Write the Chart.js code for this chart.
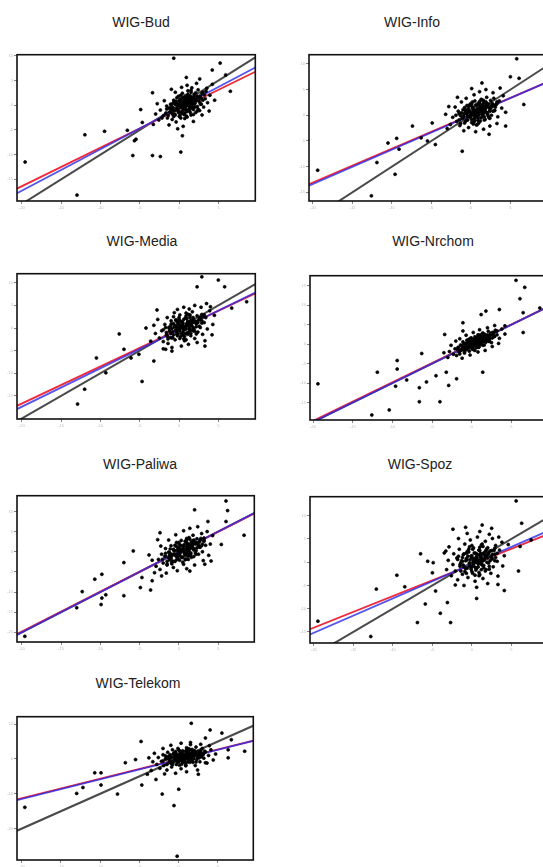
<!DOCTYPE html>
<html>
<head>
<meta charset="utf-8">
<script src="https://cdn.jsdelivr.net/npm/chart.js@4.4.1/dist/chart.umd.min.js"></script>
<style>
body { margin: 0; width: 543px; height: 867px; overflow: hidden; background: #fff; position: relative; font-family: "Liberation Sans", Arial, sans-serif; }
.panel { position: absolute; }
.ttl { position: absolute; width: 200px; text-align: center; font-size: 14px; line-height: 16px; color: #222; }
</style>
</head>
<body>
<script>
// Panel data (returns in %, sector index vs WIG)
const titles = ['WIG-Bud', 'WIG-Info', 'WIG-Media', 'WIG-Nrchom', 'WIG-Paliwa', 'WIG-Spoz', 'WIG-Telekom'];
const xTicks = [-20, -15, -10, -5, 0, 5];
const yTicks = [
    [-15, -10, -5, 0, 5, 10],
    [-15, -10, -5, 0, 5, 10],
    [-15, -10, -5, 0, 5, 10],
    [-15, -10, -5, 0, 5, 10, 15],
    [-20, -15, -10, -5, 0, 5, 10],
    [-15, -10, -5, 0, 5, 10],
    [-20, -10, 0, 10]
];
const xRange = [[-20.63, 9.67], [-20.5, 9.8], [-20.6, 9.7], [-20.4, 9.8], [-20.6, 9.6], [-20.5, 9.8], [-20.6, 9.5]];
const yRange = [[-19.4, 10.2], [-16.7, 11.8], [-20.1, 12.0], [-19.5, 17.6], [-22.4, 13.9], [-17.4, 14.1], [-29.0, 12.1]];

// lines as [intercept, slope]
const grayLine = [[0, 1], [0, 1], [0, 1], [0, 1], [0, 1], [0, 1], [0, 1]];
const redLine = [[-0.8, 0.78], [0.1, 0.66], [-0.3, 0.82], [0.1, 0.99], [0.0, 0.99], [-0.5, 0.68], [-0.1, 0.56]];
const blueLine = [[-0.5, 0.84], [0.0, 0.67], [-0.4, 0.85], [0.0, 1.0], [0.0, 1.0], [-0.4, 0.74], [-0.2, 0.565]];

// scatter points, flat x,y pairs
const budPts = [
    -19.6,-11.5, -13.0,-18.2, -9.5,-5.3, -12.0,-6.0, -6.6,-5.1, -5.9,-10.2, -5.7,-7.2, -4.7,-3.5, -3.4,-10.2, -2.4,-10.4,
    0.2,-9.5, -0.7,9.5, 4.2,7.1, 5.2,8.5, 6.5,2.8, 5.9,6.1, -3.4,2.5, -4.9,-0.9, 0.4,-6.2, -5.5,-6.9,
    -2.0,-2.1, -1.6,-0.8, -1.5,-2.6, -1.2,-1.4, -1.1,0.2, -0.9,-2.9, -0.8,-0.5, -0.7,1.0, -0.6,-1.8, -0.4,-3.4,
    -0.3,0.4, -0.2,-1.1, -0.1,1.8, 0.0,-2.3, 0.1,-0.3, 0.2,0.9, 0.3,-1.6, 0.4,2.4, 0.5,-0.8, 0.6,0.3,
    0.7,-2.7, 0.8,1.4, 0.9,-0.1, 1.0,-1.3, 1.1,2.9, 1.2,0.6, 1.3,-0.6, 1.4,1.9, 1.5,-2.0, 1.6,0.1,
    1.7,1.1, 1.8,-0.9, 1.9,2.2, 2.0,0.4, 2.1,-1.5, 2.2,1.5, 2.3,-0.3, 2.4,3.1, 2.5,0.9, 2.6,-1.1,
    2.7,1.9, 2.8,0.2, 3.0,2.6, 3.1,-0.4, 3.3,1.3, 3.5,3.4, -1.9,0.9, -2.4,-1.0, -2.6,-3.0, -0.5,2.6,
    0.3,3.6, 1.0,4.0, 1.6,3.5, 2.2,4.4, 2.9,-2.0, 3.6,0.5, 3.9,2.0, 4.2,4.2, -3.0,-1.8, -2.8,0.3,
    -1.3,-4.0, 0.5,-4.3, 1.8,-3.3, -0.2,-4.8, 3.8,-1.2, 4.5,1.0, -3.3,-3.9, 0.9,5.6, -1.0,3.2, 2.6,5.3
];
const budCore = [
    0.2,-0.5, 0.6,-0.9, 1.1,0.0, -0.3,-0.7, 0.9,0.8, 1.5,0.7, 0.0,0.1, -0.6,-1.1, 0.4,0.5, 1.3,1.2,
    2.0,1.0, 0.7,-1.6, -0.9,-1.7, 1.7,-0.4, 0.3,1.3, -0.1,-1.5, 1.0,0.3, 1.9,0.2, 2.3,1.8, -1.3,-0.6,
    0.5,-0.3, 1.2,-0.9, 0.8,1.9, -0.4,0.8, 1.6,1.5, 2.6,0.6, -0.7,-2.3, 0.1,-2.0, 1.4,-1.5, 2.1,2.5,
    -1.0,-0.2, 0.6,1.0, 1.8,-1.9, 0.0,0.9, 2.8,1.4, -1.7,-1.6, 0.9,-2.2, 1.5,2.6, -0.2,-0.1, 0.4,-1.2,
    1.1,1.6, 2.4,-0.8, -0.8,0.4, 0.2,2.0, 1.3,-0.2, 3.2,2.1, -2.2,-2.6, 0.7,0.6, 1.9,1.3, -0.5,-2.0
];
const budDense = [
    -0.5,0.1, 0.3,-0.2, 1.0,0.9, 1.7,0.6, 0.5,1.6, -0.2,-0.9, 1.3,-1.1, 2.2,0.9, 0.8,-0.5, -0.9,-1.0,
    0.1,0.6, 1.9,1.9, 1.4,0.2, 2.5,1.6, 0.6,-1.9, -1.4,-2.1, 1.1,2.2, 0.0,-1.3, 2.9,2.4, -0.6,0.7,
    1.6,-0.6, 0.4,0.1, 2.0,-0.4, 1.2,1.4, -1.1,-0.7, 0.9,-1.0, 2.7,0.2, 0.2,-2.6, 1.5,3.0, -0.3,1.5,
    3.4,2.8, 0.7,0.3, 1.8,1.2, -1.6,-0.2, 2.3,-1.2, 1.0,-2.4, 0.1,1.2, 3.0,1.0, -0.8,-1.9, 1.4,0.8
];
const infoPts = [
    -19.4,-10.7, -12.6,-15.7, -9.6,-11.5, -11.9,-9.2, -10.5,-5.4, -9.4,-4.5, -9.1,-6.6, -7.4,-2.1, -6.3,-4.4, -5.5,-5.0,
    -4.5,-5.7, -4.9,-1.5, -1.1,-7.0, 5.8,11.0, 1.4,6.3, 5.0,7.5, 6.7,2.1, 6.1,7.2, 4.4,-2.1, 2.3,-3.7,
    -1.8,-1.2, -1.5,0.3, -1.4,-2.0, -1.1,-0.6, -1.0,1.1, -0.8,-1.5, -0.7,0.4, -0.5,1.9, -0.4,-0.9, -0.3,-2.4,
    -0.2,0.9, -0.1,-0.2, 0.0,2.3, 0.1,-1.4, 0.2,0.5, 0.3,1.5, 0.4,-0.6, 0.5,2.8, 0.6,0.1, 0.7,-1.9,
    0.8,1.2, 0.9,-0.3, 1.0,2.0, 1.1,0.6, 1.2,-1.1, 1.3,3.1, 1.4,1.4, 1.5,-0.1, 1.6,2.4, 1.7,0.8,
    1.8,-0.8, 1.9,1.8, 2.0,3.5, 2.1,0.3, 2.2,2.2, 2.3,-0.5, 2.4,1.1, 2.5,2.9, 2.6,0.0, 2.7,1.7,
    2.9,3.3, 3.0,0.9, 3.2,2.1, 3.4,-0.3, 3.6,2.8, 3.9,1.4, 4.1,3.8, -2.3,-0.4, -2.6,-1.8, -2.0,1.6,
    -1.2,2.6, -0.6,3.3, 0.4,4.0, 1.1,4.6, 1.9,5.0, 2.8,4.4, 3.3,-1.6, 0.6,-3.2, -0.9,-3.0, -3.0,-2.6,
    -3.2,0.2, 1.6,-2.7, 2.4,-2.1, 4.4,0.6, -1.7,3.5, 0.1,5.2, 3.7,5.3, -2.8,1.7
];
const infoCore = [
    0.0,0.4, 0.5,1.0, 1.0,1.3, -0.5,0.2, 0.8,0.5, 1.4,2.0, 0.2,1.6, -0.9,-0.2, 0.6,-0.3, 1.2,0.9,
    1.8,1.4, 0.3,0.0, -0.3,1.2, 0.9,2.3, 1.6,0.4, -1.2,0.5, 0.1,-0.8, 2.1,1.9, 0.7,1.8, -0.6,-1.0,
    1.3,-0.5, 2.4,0.8, -0.1,0.7, 1.1,2.7, 0.4,-1.3, 1.9,2.6, -1.5,-0.9, 0.6,0.9, 2.7,2.3, -0.2,2.0,
    1.5,1.1, 0.9,-1.0, -0.8,1.5, 2.2,-0.2, 0.2,2.6, 1.7,-0.9, -1.9,0.0, 3.1,1.6, 0.5,0.3, 1.0,0.1,
    -0.4,-0.3, 1.4,3.0, 2.5,1.4, 0.0,1.9, -1.3,-1.6, 0.8,-1.8, 1.6,1.9, 3.3,2.6, -0.7,0.9, 2.0,0.6
];
const infoDense = [
    -0.4,0.6, 0.3,0.9, 1.2,1.6, 1.8,1.0, 0.6,2.0, -0.1,-0.4, 1.4,0.2, 2.3,1.5, 0.9,0.7, -1.0,-0.5,
    0.2,1.3, 2.0,2.3, 1.5,0.7, 2.6,1.9, 0.5,-1.0, -1.3,-0.1, 1.1,2.4, 0.0,0.1, 2.9,2.0, -0.6,1.1,
    1.7,-0.3, 0.4,0.5, 2.1,0.2, 1.3,1.2, -0.9,0.3, 0.9,-0.6, 2.8,0.8, 0.3,-1.7, 1.6,2.9, -0.3,1.7,
    3.3,2.3, 0.7,0.4, 1.9,1.7, -1.6,0.8, 2.4,-0.6, 1.0,-1.5, 0.1,2.2, 3.0,1.0, -0.7,-1.2, 1.4,1.0
];
const mediaPts = [
    -12.9,-16.8, -12.0,-13.5, -9.3,-9.9, -10.5,-6.6, -7.6,-1.3, -7.0,-4.7, -4.7,-11.8, -6.1,-6.6, -5.1,-5.8, -4.2,0.0,
    -3.2,-7.3, -1.7,-4.7, -0.9,-5.1, 2.9,11.3, 5.0,10.6, 5.8,9.1, 8.6,5.8, 3.3,-4.0, 4.2,-1.5, 2.3,9.1,
    -2.8,4.0, 6.7,4.4,
    -2.5,-2.2, -2.2,-0.6, -2.0,-3.0, -1.8,0.8, -1.6,-1.5, -1.4,-3.4, -1.3,0.1, -1.1,-2.1, -1.0,1.6, -0.8,-0.8,
    -0.7,2.5, -0.5,-2.6, -0.4,0.5, -0.3,-1.3, -0.1,1.2, 0.0,-0.3, 0.1,2.9, 0.2,-1.9, 0.3,0.7, 0.5,-0.9,
    0.6,1.9, 0.7,-2.8, 0.8,0.2, 0.9,3.3, 1.0,-1.1, 1.1,1.1, 1.3,-0.2, 1.4,2.4, 1.5,-1.7, 1.6,0.6,
    1.7,3.6, 1.8,-0.6, 1.9,1.6, 2.0,-2.3, 2.2,0.9, 2.3,2.7, 2.4,-0.9, 2.6,1.9, 2.7,0.1, 2.9,3.0,
    3.0,-1.4, 3.2,1.2, 3.4,2.3, 3.6,-0.2, 3.9,3.8, -3.0,-1.2, -3.2,0.6, -2.7,1.9, -1.5,2.3, -0.2,4.1,
    0.6,4.6, 1.3,4.2, 2.0,5.0, 2.8,4.6, 3.5,5.4, -2.0,-4.6, -0.9,-4.3, 0.3,-4.0, 1.2,-3.6, 2.3,-3.2,
    3.3,-2.8, 4.3,0.8, 4.5,2.8, -3.6,-2.9, -0.6,3.4, 4.0,4.7
];
const mediaCore = [
    0.0,0.1, 0.4,0.6, 0.9,0.4, -0.4,-0.4, 0.6,-0.4, 1.2,1.3, -0.1,0.9, -0.9,-0.1, 0.3,-1.2, 1.0,0.7,
    1.6,1.0, 0.2,1.5, -0.6,0.6, 0.8,2.2, 1.4,-0.6, -1.2,-0.7, -0.2,-1.7, 2.0,1.5, 0.5,1.1, -0.7,-1.5,
    1.1,-1.4, 2.2,0.3, -0.3,0.2, 0.9,2.7, 0.1,-0.6, 1.8,2.3, -1.6,-1.0, 0.5,0.0, 2.6,2.2, -0.4,1.7,
    1.3,0.5, 0.7,-1.9, -1.0,0.9, 2.0,-0.7, 0.0,2.3, 1.5,-1.2, -2.0,-0.4, 2.9,1.6, 0.3,0.3, 0.9,-0.2,
    -0.8,-2.1, 1.2,3.0, 2.4,1.2, -0.2,1.3, -1.4,-2.4, 0.6,-2.4, 1.5,1.7, 3.1,2.6, -1.1,0.4, 1.8,0.1
];
const mediaDense = [
    -0.6,0.2, 0.2,0.0, 1.0,1.0, 1.6,0.5, 0.4,1.4, -0.3,-0.8, 1.2,-0.9, 2.1,1.2, 0.7,-0.2, -1.0,-1.2,
    0.0,0.8, 1.8,2.0, 1.3,0.1, 2.4,1.6, 0.5,-1.6, -1.5,-1.8, 1.0,2.1, -0.1,-1.2, 2.8,2.3, -0.7,1.0,
    1.5,-0.4, 0.3,0.4, 1.9,-0.2, 1.1,1.5, -1.2,-0.4, 0.8,-1.2, 2.6,0.4, 0.1,-2.3, 1.4,2.9, -0.4,1.8,
    3.2,2.9, 0.6,0.2, 1.7,1.3, -1.7,0.1, 2.2,-1.3, 0.9,-2.6, 0.0,1.9, 2.9,1.1, -0.9,-2.2, 1.3,0.7
];
const nrchomPts = [
    -19.4,-10.2, -12.6,-18.2, -10.4,-16.9, -11.9,-7.2, -9.4,-4.2, -9.4,-6.4, -9.6,-10.8, -8.2,-9.2, -6.6,-11.2, -6.6,-14.8,
    -4.0,-14.8, -5.7,-9.7, -4.5,-8.1, -6.3,-2.4, -3.4,2.5, -2.9,-10.6, -1.9,-8.9, -1.1,5.5, 1.4,-7.2, 1.2,7.6,
    1.8,8.5, 3.5,8.9, 4.2,4.7, 5.6,16.4, 6.7,14.6, 6.1,11.7, 6.5,8.1, 6.5,3.0, 8.6,9.3, -1.1,3.4, -3.2,-7.2,
    -2.3,-2.6, -2.1,-1.2, -1.9,-2.9, -1.7,-0.8, -1.6,-2.0, -1.4,-0.2, -1.3,-1.5, -1.1,0.6, -1.0,-0.9, -0.9,-2.3,
    -0.8,0.1, -0.6,-1.2, -0.5,1.0, -0.4,-0.4, -0.3,-1.8, -0.2,0.5, -0.1,1.6, 0.0,-0.7, 0.1,0.9, 0.2,-1.3,
    0.3,0.2, 0.4,1.9, 0.5,-0.3, 0.6,1.2, 0.7,0.5, 0.8,2.4, 0.9,-0.8, 1.0,1.5, 1.1,0.3, 1.2,2.0,
    1.3,0.9, 1.4,2.9, 1.5,1.4, 1.6,-0.2, 1.7,2.3, 1.8,0.8, 2.0,1.7, 2.1,3.3, 2.2,1.0, 2.4,2.5,
    2.5,0.4, 2.6,3.0, 2.8,1.9, 3.0,3.6, 3.2,2.4, 3.5,1.5, 3.8,3.9, -2.8,-1.9, -3.0,-3.4, -2.6,-0.3,
    -1.5,1.4, -0.7,2.3, 0.2,3.0, 1.0,3.7, 2.0,4.2, 2.9,4.8, -1.2,-3.6, -0.2,-2.8, 0.8,-2.0, 1.7,-1.6,
    2.6,-0.6, 3.4,0.2, -3.5,-2.2, 4.2,2.6, -2.0,0.8
];
const nrchomCore = [
    0.0,0.2, 0.4,0.5, 0.9,1.0, -0.4,-0.3, 0.6,0.2, 1.2,1.5, -0.1,0.7, -0.8,-0.6, 0.3,-0.4, 1.0,0.6,
    1.5,1.9, 0.2,1.1, -0.5,0.4, 0.7,1.6, 1.3,0.6, -1.1,-1.0, -0.3,-1.0, 1.8,1.3, 0.5,1.4, -0.7,-1.4,
    1.0,-0.2, 2.0,2.4, -0.2,0.0, 0.8,2.0, 0.1,-0.9, 1.6,2.6, -1.4,-1.6, 0.5,0.8, 2.3,1.8, -0.6,1.0,
    1.2,1.1, 0.6,-0.9, -1.0,0.1, 1.8,0.5, 0.0,1.5, 1.4,-0.3, -1.8,-1.3, 2.6,2.6, 0.3,0.1, 0.9,0.3,
    -0.9,-2.0, 1.1,2.4, 2.2,1.3, -0.3,1.3, -1.5,-2.5, 0.4,-1.6, 1.6,1.4, 2.8,3.0, -1.2,-0.4, 1.9,0.9
];
const nrchomDense = [
    -0.6,-0.4, 0.2,0.3, 1.0,1.2, 1.6,1.6, 0.4,1.1, -0.3,-0.6, 1.2,0.3, 2.1,2.0, 0.7,0.4, -1.0,-1.2,
    0.0,0.6, 1.8,2.2, 1.3,0.9, 2.4,2.8, 0.5,-0.5, -1.5,-1.9, 1.0,2.0, -0.1,-0.5, 2.8,2.2, -0.7,0.2,
    1.5,0.6, 0.3,0.9, 1.9,1.1, 1.1,1.7, -1.2,-0.7, 0.8,-0.1, 2.6,1.6, 0.1,-1.3, 1.4,2.6, -0.4,0.8,
    3.2,3.4, 0.6,0.7, 1.7,1.0, -1.7,-1.0, 2.2,0.7, 0.9,-0.7, 0.0,1.2, 2.9,2.0, -0.9,-1.7, 1.3,1.3
];
const paliwaPts = [
    -19.6,-21.0, -13.0,-13.9, -12.3,-9.9, -9.9,-13.1, -9.8,-11.5, -9.3,-10.7, -10.7,-6.8, -9.8,-5.6, -7.0,-10.9, -7.0,-2.7,
    -5.8,0.2, -4.9,-8.9, -4.7,-6.4, -3.4,-7.2, -3.6,-9.5, -2.2,-6.0, -2.4,4.7, 1.4,-4.8, 2.0,10.4, 3.7,7.5,
    4.1,-2.3, 5.4,1.8, 6.0,12.6, 6.2,10.2, 8.3,4.1, 6.0,7.5, 3.3,-3.1,
    -2.9,-3.6, -2.6,-1.9, -2.4,-4.4, -2.2,-0.6, -2.0,-2.8, -1.8,-1.2, -1.7,0.8, -1.5,-3.3, -1.3,-0.1, -1.2,-2.0,
    -1.0,1.5, -0.9,-1.0, -0.7,-3.9, -0.6,0.4, -0.5,-2.4, -0.3,2.3, -0.2,-0.6, -0.1,-1.7, 0.0,1.0, 0.2,-0.2,
    0.3,2.8, 0.4,-1.4, 0.5,0.6, 0.6,-3.1, 0.7,1.8, 0.9,-0.7, 1.0,3.3, 1.1,0.2, 1.2,-1.9, 1.3,1.4,
    1.5,-0.4, 1.6,2.5, 1.7,0.9, 1.8,4.1, 1.9,-1.2, 2.1,1.9, 2.2,0.3, 2.3,3.2, 2.5,-0.6, 2.6,2.4,
    2.7,1.1, 2.9,4.5, 3.0,0.0, 3.2,2.9, 3.4,1.6, 3.6,5.0, 3.8,-0.9, -3.4,-2.1, -3.1,-5.2, -2.3,1.4,
    -1.3,2.9, -0.4,4.2, 0.6,5.2, 1.4,5.8, 2.4,6.2, -1.6,-5.3, -0.2,-4.7, 1.0,-4.2, 2.0,-3.3, 3.1,-2.2,
    4.0,1.9, 4.3,4.0, -3.8,-0.8, -2.7,3.0
];
const paliwaCore = [
    0.0,-0.2, 0.5,0.6, 1.0,0.5, -0.5,-0.9, 0.7,-0.5, 1.3,1.9, -0.1,0.7, -0.9,-0.6, 0.3,-1.3, 1.1,0.9,
    1.7,1.4, 0.2,1.6, -0.6,0.2, 0.8,2.6, 1.5,-0.3, -1.3,-1.5, -0.3,-2.0, 2.1,2.2, 0.6,1.3, -0.8,-2.3,
    1.2,-1.1, 2.3,1.0, -0.2,0.3, 1.0,3.0, 0.1,-0.8, 1.9,2.9, -1.7,-1.1, 0.6,0.1, 2.7,2.9, -0.5,1.6,
    1.4,0.8, 0.8,-2.0, -1.1,0.7, 2.1,-0.3, 0.0,2.3, 1.6,-1.4, -2.1,-1.9, 3.0,1.9, 0.4,0.3, 1.0,-0.4,
    -0.9,-3.0, 1.3,3.5, 2.5,1.6, -0.2,1.2, -1.5,-3.1, 0.5,-2.6, 1.7,2.0, 3.2,3.4, -1.2,-0.2, 1.9,0.4
];
const paliwaDense = [
    -0.6,-0.6, 0.2,0.1, 1.0,1.3, 1.6,1.1, 0.4,1.5, -0.3,-1.2, 1.2,-0.5, 2.1,2.4, 0.7,0.0, -1.0,-1.6,
    0.0,0.9, 1.8,2.6, 1.3,0.3, 2.4,2.0, 0.5,-1.4, -1.5,-2.4, 1.0,2.3, -0.1,-1.0, 2.8,3.3, -0.7,0.6,
    1.5,-0.8, 0.3,0.6, 1.9,0.8, 1.1,1.8, -1.2,-0.9, 0.8,-0.9, 2.6,1.2, 0.1,-2.1, 1.4,3.1, -0.4,1.4,
    3.2,2.6, 0.6,0.5, 1.7,1.7, -1.7,-0.4, 2.2,-0.6, 0.9,-1.8, 0.0,2.0, 2.9,1.5, -0.9,-2.6, 1.3,1.0
];
const spozPts = [
    -19.5,-12.7, -12.8,-16.0, -12.1,-5.8, -9.5,-2.8, -8.5,-5.3, -6.9,-13.0, -6.5,1.8, -5.9,-9.0, -4.9,-0.1, -4.6,-6.2,
    -4.0,-11.0, -3.3,2.4, -3.1,-8.7, -2.7,-13.0, -2.4,7.1, -2.1,-4.9, -0.8,7.5, 0.6,-7.8, 1.3,8.0, 2.5,7.3,
    3.3,-4.8, 4.1,-6.1, 4.6,3.8, 5.9,-1.9, 5.6,13.2, 6.3,8.4, 6.1,3.4, 7.5,4.8, -5.6,0.2, -5.0,-2.3,
    -2.6,-2.9, -2.4,-0.5, -2.3,1.8, -2.1,-1.9, -1.9,0.9, -1.8,-3.8, -1.6,2.8, -1.5,-0.9, -1.3,0.3, -1.2,-2.6,
    -1.1,1.6, -0.9,3.9, -0.8,-1.4, -0.7,0.8, -0.5,-3.3, -0.4,2.2, -0.3,-0.2, -0.2,4.8, -0.1,1.3, 0.0,-2.0,
    0.1,-0.8, 0.2,3.1, 0.3,0.5, 0.4,-4.1, 0.5,1.9, 0.6,-1.3, 0.7,5.4, 0.8,0.0, 0.9,2.6, 1.0,-2.7,
    1.1,1.2, 1.2,3.7, 1.3,-0.6, 1.4,-3.5, 1.5,2.0, 1.6,0.6, 1.7,4.5, 1.8,-1.6, 1.9,1.5, 2.0,3.1,
    2.1,-0.2, 2.3,2.4, 2.4,-2.4, 2.5,0.9, 2.6,5.1, 2.7,-1.0, 2.9,1.7, 3.0,3.6, 3.2,0.2, 3.3,-3.0,
    3.5,2.6, 3.8,4.3, -3.0,0.4, -3.2,-1.6, -2.9,3.3, -1.7,5.1, -0.6,6.2, 1.0,6.6, 2.2,6.0, 3.4,5.4,
    -1.0,-5.0, 0.6,-5.4, 2.0,-4.6, 3.9,-0.8, 4.1,1.4, -3.5,2.0
];
const spozCore = [
    0.2,0.4, 0.6,1.2, 1.1,0.6, -0.3,-0.2, 0.8,-0.4, 1.4,1.8, 0.0,1.0, -0.8,0.3, 0.4,-1.1, 1.2,0.9,
    1.8,1.2, 0.3,2.0, -0.5,1.3, 0.9,2.6, 1.5,-0.7, -1.1,-0.6, -0.1,-1.5, 2.1,2.1, 0.6,0.5, -0.6,-1.3,
    1.2,-1.6, 2.3,0.3, -0.2,0.6, 1.0,3.2, 0.2,-0.5, 1.9,2.9, -1.4,-0.1, 0.7,1.7, 2.6,1.7, -0.6,2.3,
    1.5,0.4, 0.9,-2.2, -1.0,1.8, 2.2,-0.9, 0.1,2.8, 1.7,-1.9, -1.8,0.6, 3.0,1.0, 0.5,0.0, 1.1,-0.1,
    -0.7,-2.4, 1.3,3.9, 2.5,2.5, -0.3,3.3, -1.4,-1.9, 0.4,-2.8, 1.7,2.3, 2.9,3.0, -1.2,1.0, 2.0,0.9
];
const spozDense = [
    -0.6,0.5, 0.2,0.0, 1.0,1.5, 1.6,0.9, 0.4,1.9, -0.3,-0.9, 1.2,-0.4, 2.1,1.8, 0.7,0.4, -1.0,-1.0,
    0.0,1.4, 1.8,2.6, 1.3,0.2, 2.4,1.2, 0.5,-1.7, -1.5,-0.5, 1.0,2.5, -0.1,-1.1, 2.8,2.5, -0.7,1.9,
    1.5,-1.2, 0.3,0.8, 1.9,0.0, 1.1,1.9, -1.2,0.2, 0.8,-1.0, 2.6,0.7, 0.1,-2.4, 1.4,3.4, -0.4,2.8,
    3.2,1.9, 0.6,1.0, 1.7,1.4, -1.7,1.3, 2.2,-1.5, 0.9,-2.9, 0.0,3.6, 2.9,0.3, -0.9,-2.0, 1.3,0.6
];
const telekomPts = [
    -19.6,-13.9, -13.0,-9.9, -12.2,-8.2, -10.7,-4.0, -9.9,-4.0, -9.9,-7.5, -7.8,-10.1, -6.8,-1.1, -5.5,-0.2, -4.8,5.0,
    -4.7,-7.5, -4.0,-4.4, -2.1,-10.1, -0.6,-13.4, 0.0,-8.7, -0.2,-27.9, 1.6,10.2, 3.4,6.0, 4.0,8.3, 5.5,7.4,
    6.3,0.3, 6.7,5.5, 8.4,2.2, 6.3,2.6, -2.9,-5.9, 2.5,-4.4, 3.4,-1.1, 1.5,4.1,
    -2.8,-1.6, -2.6,0.4, -2.4,-2.7, -2.2,-0.7, -2.0,1.2, -1.9,-1.9, -1.7,0.0, -1.5,-3.2, -1.4,1.9, -1.2,-1.0,
    -1.1,0.8, -0.9,-2.3, -0.8,2.6, -0.6,-0.3, -0.5,1.4, -0.3,-1.6, -0.2,0.3, -0.1,3.0, 0.0,-0.9, 0.2,1.7,
    0.3,-2.8, 0.4,0.6, 0.5,2.3, 0.7,-0.4, 0.8,1.1, 0.9,-1.8, 1.0,3.2, 1.2,0.1, 1.3,1.9, 1.4,-1.0,
    1.6,0.8, 1.7,2.7, 1.8,-0.2, 2.0,1.5, 2.1,-1.9, 2.2,3.4, 2.4,0.5, 2.5,2.1, 2.7,-0.8, 2.8,1.3,
    3.0,3.0, 3.2,0.2, 3.4,2.0, 3.6,-1.2, 3.8,1.0, 4.1,2.6, -3.3,-0.8, -3.1,1.6, -3.5,-3.3, -2.0,3.0,
    -1.0,3.9, 0.3,4.5, 1.5,4.7, 2.8,4.2, 3.9,3.8, -1.8,-4.3, -0.4,-4.1, 1.0,-3.7, 2.4,-3.2, 4.4,-0.3,
    4.7,1.4, -3.8,0.3
];
const telekomCore = [
    0.1,0.5, 0.6,1.0, 1.1,0.7, -0.4,0.1, 0.8,0.0, 1.4,1.6, 0.0,1.2, -0.9,0.4, 0.4,-0.5, 1.2,1.1,
    1.9,1.3, 0.3,1.8, -0.5,1.0, 0.9,2.2, 1.6,0.2, -1.2,-0.3, -0.2,-0.9, 2.2,1.9, 0.6,1.5, -0.7,-1.0,
    1.2,-0.8, 2.5,0.6, -0.3,0.7, 1.0,2.6, 0.2,-0.3, 2.0,2.4, -1.6,0.0, 0.7,0.7, 2.8,1.8, -0.6,1.7,
    1.5,1.0, 0.9,-1.3, -1.1,1.2, 2.3,-0.2, 0.1,2.3, 1.8,-1.0, -2.0,-0.6, 3.1,1.2, 0.5,0.2, 1.1,0.2,
    -0.8,-1.7, 1.3,2.9, 2.6,1.4, -0.3,1.5, -1.5,-1.6, 0.4,-1.5, 1.7,1.8, 3.3,2.2, -1.3,0.7, 2.0,0.8
];
const telekomDense = [
    -0.6,0.6, 0.2,0.2, 1.0,1.4, 1.6,0.9, 0.4,1.6, -0.3,-0.4, 1.2,-0.3, 2.1,1.6, 0.7,0.6, -1.0,-0.6,
    0.0,1.0, 1.8,2.1, 1.3,0.4, 2.4,1.1, 0.5,-1.0, -1.5,0.4, 1.0,2.0, -0.1,-0.5, 2.8,2.3, -0.7,1.4,
    1.5,-0.5, 0.3,0.9, 1.9,0.1, 1.1,1.7, -1.2,-0.1, 0.8,-0.8, 2.6,0.3, 0.1,-1.8, 1.4,2.6, -0.4,2.1,
    3.2,1.6, 0.6,1.1, 1.7,1.3, -1.7,0.9, 2.2,-0.9, 0.9,-2.0, 0.0,2.6, 2.9,0.6, -0.9,-1.4, 1.3,0.9
];
const points = [
    budPts.concat(budCore, budDense), infoPts.concat(infoCore, infoDense),
    mediaPts.concat(mediaCore, mediaDense), nrchomPts.concat(nrchomCore, nrchomDense),
    paliwaPts.concat(paliwaCore, paliwaDense), spozPts.concat(spozCore, spozDense),
    telekomPts.concat(telekomCore, telekomDense)
];

// page layout: plot box [left, top, right, bottom] and title centre [x, y]
const boxes = [
    [17, 53, 257, 201], [309, 53, 550, 201],
    [17, 272, 257, 419], [310, 274, 551, 420],
    [17, 494, 256, 642], [310, 495, 551, 643],
    [17, 715, 255, 860]
];
const titlePos = [[141, 22], [412, 22], [142, 241], [433, 241], [140, 464], [420, 464], [138, 683]];

const AXIS_W = 16, AXIS_H = 12, PAD_T = 3, PAD_R = 3;

function toXY(flat) {
    const out = [];
    for (let i = 0; i < flat.length; i += 2) out.push({ x: flat[i], y: flat[i + 1] });
    return out;
}

function lineData(coef, xr) {
    return xr.map(x => ({ x: x, y: coef[0] + coef[1] * x }));
}

const boxPlugin = {
    id: 'box',
    afterDraw(chart) {
        const a = chart.chartArea, ctx = chart.ctx;
        ctx.save();
        ctx.strokeStyle = '#111';
        ctx.lineWidth = 1.6;
        ctx.strokeRect(a.left, a.top, a.right - a.left, a.bottom - a.top);
        ctx.restore();
    }
};

function axisOpts(min, max, tickVals, fit) {
    return {
        type: 'linear',
        min: min,
        max: max,
        afterBuildTicks: s => { s.ticks = tickVals.map(v => ({ value: v })); },
        afterFit: fit,
        grid: { drawOnChartArea: false, drawTicks: true, tickLength: 3, color: '#666', lineWidth: 0.8 },
        border: { display: false },
        ticks: { font: { size: 4 }, color: '#bbb', padding: 1, autoSkip: false, maxRotation: 0 }
    };
}

titles.forEach((t, i) => {
    const b = boxes[i];
    const ttl = document.createElement('div');
    ttl.className = 'ttl';
    ttl.textContent = t;
    ttl.style.left = (titlePos[i][0] - 100) + 'px';
    ttl.style.top = (titlePos[i][1] - 8) + 'px';
    document.body.appendChild(ttl);

    const cv = document.createElement('canvas');
    cv.className = 'panel';
    cv.width = (b[2] - b[0]) + AXIS_W + PAD_R;
    cv.height = (b[3] - b[1]) + AXIS_H + PAD_T;
    cv.style.left = (b[0] - AXIS_W) + 'px';
    cv.style.top = (b[1] - PAD_T) + 'px';
    document.body.appendChild(cv);

    new Chart(cv, {
        type: 'scatter',
        data: {
            datasets: [
                { data: toXY(points[i]), pointRadius: 1.5, pointBorderWidth: 0.7, backgroundColor: '#000', borderColor: '#000' },
                { data: lineData(blueLine[i], xRange[i]), showLine: true, pointRadius: 0, borderColor: 'rgba(40,40,235,0.8)', borderWidth: 1.8 },
                { data: lineData(redLine[i], xRange[i]), showLine: true, pointRadius: 0, borderColor: '#f02a3a', borderWidth: 1.8 },
                { data: lineData(grayLine[i], xRange[i]), showLine: true, pointRadius: 0, borderColor: '#4a4a4a', borderWidth: 2 }
            ]
        },
        options: {
            responsive: false,
            animation: false,
            events: [],
            layout: { padding: { top: PAD_T, right: PAD_R, left: 0, bottom: 0 } },
            plugins: { legend: { display: false }, tooltip: { enabled: false } },
            scales: {
                x: axisOpts(xRange[i][0], xRange[i][1], xTicks, s => { s.height = AXIS_H; }),
                y: axisOpts(yRange[i][0], yRange[i][1], yTicks[i], s => { s.width = AXIS_W; })
            }
        },
        plugins: [boxPlugin]
    });
});
</script>
</body>
</html>
